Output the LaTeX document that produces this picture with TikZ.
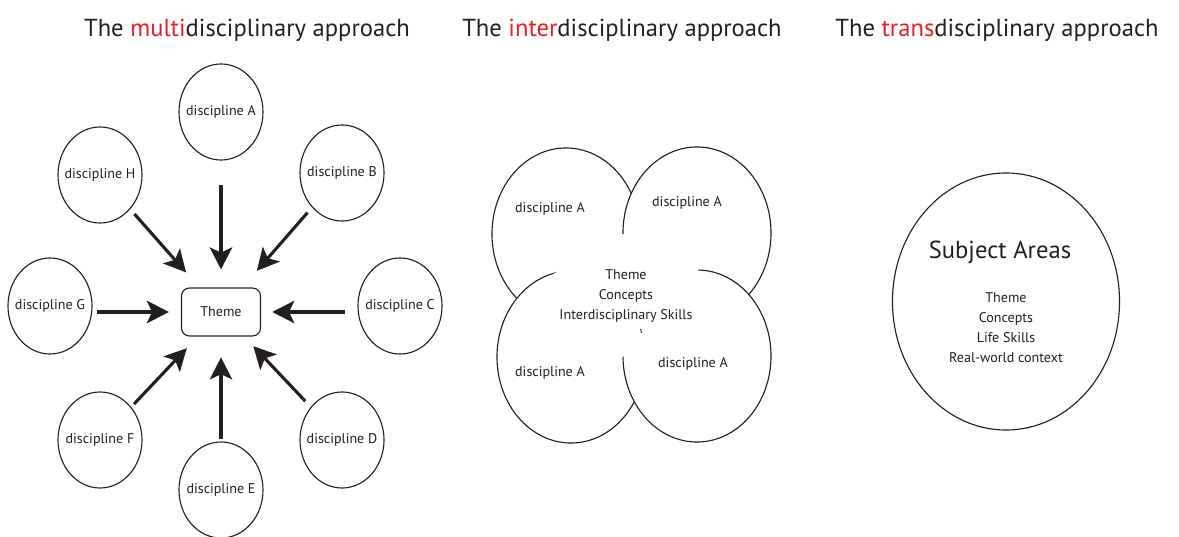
\documentclass[tikz,border=0pt]{standalone}
\usepackage{fontspec}
\setmainfont{PT Sans}
\usetikzlibrary{arrows.meta,shapes.geometric}

\definecolor{ink}{RGB}{35,31,32}
\definecolor{accent}{RGB}{230,30,40}

\tikzset{
  title/.style={anchor=base, text=ink, font=\fontsize{17.5}{20}\selectfont},
  lbl/.style={text=ink, font=\fontsize{10}{14.2}\selectfont},
  disc/.style={draw=ink, line width=0.8pt, ellipse, minimum width=2.1cm, minimum height=2.4cm,
    inner xsep=-5mm, inner ysep=0pt, text=ink, font=\fontsize{10}{14.2}\selectfont},
  blob/.style={draw=ink, line width=0.8pt, fill=white, ellipse, minimum width=3.7cm, minimum height=4.3cm},
  push/.style={-{Stealth[length=0.55cm, width=0.56cm, inset=0.13cm]}, line width=2.2pt, ink},
}

\begin{document}
\begin{tikzpicture}[x=0.025cm, y=-0.025cm]
  \useasboundingbox (0,0) rectangle (1179,537);

  % headings
  \node[title] (t1) at (247,37) {The \textcolor{accent}{multi}disciplinary approach};
  \node[title] (t2) at (622,37) {The \textcolor{accent}{inter}disciplinary approach};
  \node[title] (t3) at (997,37) {The \textcolor{accent}{trans}disciplinary approach};

  % multidisciplinary: eight disciplines around the theme
  \node[draw=ink, line width=0.8pt, rounded corners=0.2cm, minimum width=1.975cm, minimum height=1.2cm,
    text=ink, font=\fontsize{10}{14.2}\selectfont] (theme) at (221,312) {Theme};
  \node[disc] (dA) at (221,112) {discipline A};
  \node[disc] (dB) at (342,173) {discipline B};
  \node[disc] (dC) at (400,306) {discipline C};
  \node[disc] (dD) at (342,440) {discipline D};
  \node[disc] (dE) at (221,490) {discipline E};
  \node[disc] (dF) at (100,440) {discipline F};
  \node[disc] (dG) at (50,306) {discipline G};
  \node[disc] (dH) at (100,175) {discipline H};

  \draw[push, shorten <=0.62cm, shorten >=0.45cm] (dA) -- (theme);
  \draw[push, shorten <=0.17cm, shorten >=0.55cm] (dB) -- (theme);
  \draw[push, shorten <=0.32cm, shorten >=0.28cm] (dC.west |- theme) -- (theme);
  \draw[push, shorten <=0.2cm, shorten >=0.33cm] (dD) -- (theme);
  \draw[push, shorten <=0.05cm, shorten >=0.52cm] (dE) -- (theme);
  \draw[push, shorten <=0.1cm, shorten >=0.4cm] (dF) -- (theme);
  \draw[push, shorten <=0.12cm, shorten >=0.3cm] (dG.east |- theme) -- (theme);
  \draw[push, shorten <=0.16cm, shorten >=0.5cm] (dH) -- (theme);

  % interdisciplinary: four overlapping disciplines, middle left open
  \node[blob] (iTL) at (566,234) {};
  \node[blob] (iTR) at (697,233) {};
  \node[blob] (iBL) at (571,357) {};
  \node[blob] (iBR) at (697,356) {};
  \fill[white] (623,234) -- (700,268) -- (622,358) -- (543,280) -- cycle;

  \node[lbl] (lTL) at (550,209) {discipline A};
  \node[lbl] (lTR) at (687,203) {discipline A};
  \node[lbl] (lBL) at (550,373) {discipline A};
  \node[lbl] (lBR) at (693,364) {discipline A};
  \node[lbl, align=center] (core) at (626,296) {Theme\\Concepts\\Interdisciplinary Skills};
  \draw[ink, line width=0.6pt] (640.5,329) -- (641.5,333);

  % transdisciplinary: one subject area
  \node[draw=ink, line width=0.8pt, ellipse, minimum width=5.675cm, minimum height=6.425cm] (whole) at (1006,301.5) {};
  \node[text=ink, font=\fontsize{17.5}{20}\selectfont] (subj) at (1000,252) {Subject Areas};
  \node[lbl, align=center] (items) at (1006,328) {Theme\\Concepts\\Life Skills\\Real-world context};
\end{tikzpicture}
\end{document}
